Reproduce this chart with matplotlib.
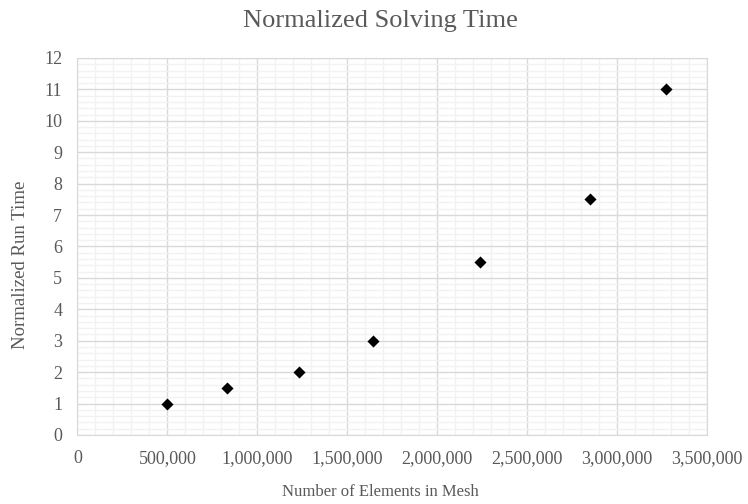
import matplotlib.pyplot as plt
from matplotlib.ticker import MultipleLocator, FuncFormatter

plt.rcParams['font.family'] = ['Liberation Serif', 'DejaVu Serif']

# mesh size vs normalized solve time
elements = [497000, 829000, 1230000, 1640000, 2240000, 2850000, 3270000]
run_time = [1, 1.5, 2, 3, 5.5, 7.5, 11]

text_color = '#595959'

fig = plt.figure(figsize=(7.48, 5.04), dpi=100)
ax = fig.add_axes([0.1036, 0.137, 0.8417, 0.748])

ax.scatter(elements, run_time, marker='D', s=38, color='black', zorder=3,
           linewidths=0)

ax.set_xlim(0, 3500000)
ax.set_ylim(0, 12)
ax.xaxis.set_major_locator(MultipleLocator(500000))
ax.xaxis.set_minor_locator(MultipleLocator(100000))
ax.yaxis.set_major_locator(MultipleLocator(1))
ax.yaxis.set_minor_locator(MultipleLocator(0.2))
ax.xaxis.set_major_formatter(FuncFormatter(lambda v, p: f'{int(v):,}'))

ax.grid(which='major', color='#d9d9d9', linewidth=1.0)
ax.grid(which='minor', color='#f2f2f2', linewidth=1.0)
ax.set_axisbelow(True)
for sp in ax.spines.values():
    sp.set_color('#d9d9d9')
ax.tick_params(which='both', length=0, labelsize=13, colors=text_color)
ax.tick_params(axis='x', pad=11)
ax.tick_params(axis='y', pad=11)

# titles placed in figure coordinates
fig.text(0.508, 0.958, 'Normalized Solving Time', fontsize=19, color=text_color,
         ha='center', va='center')
fig.text(0.509, 0.024, 'Number of Elements in Mesh', fontsize=12, color=text_color,
         ha='center', va='center')
fig.text(0.027, 0.474, 'Normalized Run Time', fontsize=13.5, color=text_color,
         ha='center', va='center', rotation=90)

fig.savefig('out.png', dpi=100)
